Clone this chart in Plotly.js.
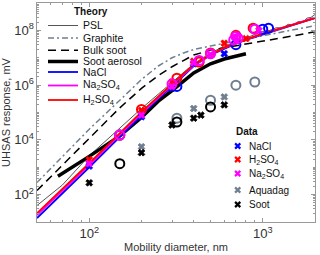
<!DOCTYPE html>
<html>
<head>
<meta charset="utf-8">
<script src="https://cdn.plot.ly/plotly-3.0.1.min.js"></script>
<style>html,body{margin:0;padding:0;background:#fff}#chart{width:320px;height:255px}</style>
</head>
<body>
<div id="chart"></div>
<script>
// ---- Theory curves ----
const dPSL = [50, 70, 100, 150, 200, 300, 400, 500, 600, 700, 800, 900, 1000, 1100, 1200, 1300, 1400, 1500, 1600, 1700, 1800, 1900, 2000];
const vPSL = [40, 224, 2630, 2.8e4, 1.4e5, 1.26e6, 6.0e6, 1.5e7, 2.6e7, 3.8e7, 5.2e7, 6.9e7, 9.1e7, 1.0e8, 1.26e8, 1.2e8, 1.66e8, 1.58e8, 2.1e8, 2.0e8, 2.8e8, 3.0e8, 3.8e8];

const dGraphite = [50, 100, 150, 200, 250, 300, 350, 400, 500, 600, 700, 800, 1000, 1200, 1500, 2000];
const vGraphite = [275, 2.45e4, 2.8e5, 1.6e6, 5.0e6, 1.0e7, 1.5e7, 2.0e7, 2.7e7, 3.4e7, 4.2e7, 4.8e7, 6.3e7, 7.9e7, 1.05e8, 1.48e8];

const dBulk = [50, 100, 150, 200, 250, 300, 400, 500, 600, 700, 800, 1000, 1200, 1500, 2000];
const vBulk = [141, 1.12e4, 1.48e5, 7.6e5, 2.24e6, 4.7e6, 1.26e7, 1.9e7, 2.3e7, 2.7e7, 3.2e7, 4.0e7, 4.8e7, 6.3e7, 8.9e7];

const dSootAer = [66, 100, 150, 200, 250, 300, 400, 500, 600, 700, 800];
const vSootAer = [468, 2.5e3, 1.4e4, 6.6e4, 2.6e5, 6.3e5, 2.8e6, 6.0e6, 9.0e6, 1.15e7, 1.4e7];

const dSalt = [50, 100, 200, 250, 300, 400, 500, 600, 700, 800, 1000, 1200, 1500, 2000];
const vNaClTh = [14, 1.0e3, 7.9e4, 3.2e5, 8.9e5, 5.0e6, 1.26e7, 2.2e7, 3.3e7, 4.5e7, 7.1e7, 1.0e8, 1.6e8, 2.8e8];
const vNa2SO4Th = [18, 1.2e3, 9.3e4, 3.5e5, 1.0e6, 5.2e6, 1.26e7, 2.3e7, 3.4e7, 4.6e7, 7.4e7, 1.05e8, 1.66e8, 2.9e8];
const vH2SO4Th = [21, 1.4e3, 1.05e5, 4.0e5, 1.1e6, 5.6e6, 1.3e7, 2.35e7, 3.5e7, 4.7e7, 7.6e7, 1.07e8, 1.66e8, 2.8e8];

// ---- Measured data (X = crosses, O = circles) ----
const dNaClX = [100, 200, 300, 400, 600];
const vNaClX = [1.1e3, 7e4, 7.6e5, 6e6, 1.4e7];
const dNaClO = [150, 320, 700, 1000, 1080];
const vNaClO = [1.5e4, 9e5, 3e7, 1.1e8, 1.2e8];

const dH2SO4X = [100, 200, 300, 400, 600, 800];
const vH2SO4X = [1.9e3, 1.2e5, 1.3e6, 7.5e6, 3.4e7, 5e7];
const dH2SO4O = [150, 200, 320, 430, 500, 700, 880];
const vH2SO4O = [1.5e4, 1.3e5, 1.8e6, 7e6, 1.5e7, 6.6e7, 1.2e8];

const dNa2SO4X = [100, 200, 300, 400, 500, 700, 950];
const vNa2SO4X = [1.35e3, 8e4, 9e5, 6.5e6, 1.3e7, 5.5e7, 1.0e8];
const dNa2SO4O = [150, 300, 430, 500, 680, 700, 720, 900];
const vNa2SO4O = [1.5e4, 1.1e6, 8e6, 1.4e7, 4.5e7, 6e7, 5.2e7, 1.1e8];

const dAquaX = [200, 400, 600];
const vAquaX = [5.6e3, 1.4e5, 3.7e5];
const dAquaO = [320, 500, 700, 900];
const vAquaO = [6.2e4, 2.8e5, 1.0e6, 1.3e6];

const dSootX = [100, 200, 300, 400, 440, 600];
const vSootX = [2.7e2, 3.4e3, 3.5e4, 6.2e4, 8e4, 1.9e5];
const dSootO = [150, 320, 500];
const vSootO = [1.35e3, 4.5e4, 1.6e5];

// ---- Legend labels ----
const theoryNames = ['PSL', 'Graphite', 'Bulk soot', 'Soot aerosol', 'NaCl', 'Na<sub>2</sub>SO<sub>4</sub>', 'H<sub>2</sub>SO<sub>4</sub>'];
const dataNames = ['NaCl', 'H<sub>2</sub>SO<sub>4</sub>', 'Na<sub>2</sub>SO<sub>4</sub>', 'Aquadag', 'Soot'];

const GRAYBLUE = '#6f7f90';
const theoryStyles = [
  {color:'#555555', width:1, dash:'solid'},
  {color:GRAYBLUE, width:1.5, dash:'6px,3px,2px,3px'},
  {color:'#000000', width:1.5, dash:'8px,5px'},
  {color:'#000000', width:3.5, dash:'solid'},
  {color:'#0000ff', width:1.8, dash:'solid'},
  {color:'#ff00ff', width:1.8, dash:'solid'},
  {color:'#ff0000', width:1.8, dash:'solid'}
];
const dataColors = ['#0000ff', '#ff0000', '#ff00ff', GRAYBLUE, '#000000'];

const theoryX = [dPSL, dGraphite, dBulk, dSootAer, dSalt, dSalt, dSalt];
const theoryY = [vPSL, vGraphite, vBulk, vSootAer, vNaClTh, vNa2SO4Th, vH2SO4Th];
const dataXx = [dNaClX, dH2SO4X, dNa2SO4X, dAquaX, dSootX];
const dataXy = [vNaClX, vH2SO4X, vNa2SO4X, vAquaX, vSootX];
const dataOx = [dNaClO, dH2SO4O, dNa2SO4O, dAquaO, dSootO];
const dataOy = [vNaClO, vH2SO4O, vNa2SO4O, vAquaO, vSootO];

const traces = [];
theoryNames.forEach((n, i) => {
  traces.push({type:'scatter', mode:'lines', name:n, x:theoryX[i], y:theoryY[i], showlegend:false,
    line:theoryStyles[i], hoverinfo:'skip'});
});
dataNames.forEach((n, i) => {
  const c = dataColors[i];
  traces.push({type:'scatter', mode:'markers', name:n, x:dataOx[i], y:dataOy[i], showlegend:false,
    marker:{symbol:'circle-open', size:9, color:c, opacity:1, line:{width:2, color:c}}, hoverinfo:'skip'});
  traces.push({type:'scatter', mode:'markers', name:n, x:dataXx[i], y:dataXy[i], showlegend:false,
    marker:{symbol:'x', size:6, color:c, opacity:1, line:{width:0.8, color:c}}, hoverinfo:'skip'});
});

// ---- Hand-laid legends (pixel positions converted to paper fractions) ----
const M = {l:37, r:5, t:3, b:33}, W = 320, H = 255;
const PW = W - M.l - M.r, PH = H - M.t - M.b;
const px = v => (v - M.l) / PW;
const py = v => 1 - (v - M.t) / PH;

const shapes = [], annotations = [];
const thRowY = [25.5, 38, 50.3, 61.5, 72, 85.5, 100];
theoryNames.forEach((n, i) => {
  const s = theoryStyles[i];
  shapes.push({type:'line', xref:'paper', yref:'paper', x0:px(48), x1:px(78), y0:py(thRowY[i]), y1:py(thRowY[i]),
    line:{color:s.color, width:s.width, dash:s.dash}});
  annotations.push({xref:'paper', yref:'paper', x:px(81), y:py(thRowY[i]), xanchor:'left', yanchor:'middle',
    showarrow:false, text:n, font:{size:10.5, color:'#111'}});
});
annotations.push({xref:'paper', yref:'paper', x:px(91), y:py(12), xanchor:'center', yanchor:'middle',
  showarrow:false, text:'<b>Theory</b>', font:{size:10, color:'#111'}});

const daRowY = [146, 159.5, 173.5, 190, 204.5];
dataNames.forEach((n, i) => {
  const c = dataColors[i], cx = 237.7, cy = daRowY[i], r = 2.6;
  shapes.push({type:'path', xref:'paper', yref:'paper',
    path:`M${px(cx - r)},${py(cy - r)} L${px(cx + r)},${py(cy + r)} M${px(cx - r)},${py(cy + r)} L${px(cx + r)},${py(cy - r)}`,
    line:{color:c, width:2.2}});
  annotations.push({xref:'paper', yref:'paper', x:px(247), y:py(cy), xanchor:'left', yanchor:'middle',
    showarrow:false, text:n, font:{size:10, color:'#111'}});
});
annotations.push({xref:'paper', yref:'paper', x:px(246.7), y:py(131), xanchor:'center', yanchor:'middle',
  showarrow:false, text:'<b>Data</b>', font:{size:10, color:'#111'}});

const axisCommon = {
  type:'log', showline:true, linecolor:'#999', linewidth:1, mirror:'ticks',
  ticks:'inside', ticklen:4, tickcolor:'#999', showgrid:false, zeroline:false,
  exponentformat:'power', tickfont:{size:10.5, color:'#333'},
  minor:{ticks:'inside', ticklen:2, tickcolor:'#999', dtick:'D1', showgrid:false}
};
const layout = {
  width:W, height:H,
  margin:M,
  paper_bgcolor:'#fff', plot_bgcolor:'#fff',
  font:{family:'Liberation Sans, Arial, sans-serif', size:10, color:'#222'},
  showlegend:false,
  xaxis:Object.assign({}, axisCommon, {range:[Math.log10(50), Math.log10(2000)], dtick:1,
    title:{text:'Mobility diameter, nm', font:{size:11, color:'#333'}, standoff:3}}),
  yaxis:Object.assign({}, axisCommon, {range:[1, 9], dtick:2,
    title:{text:'UHSAS response, mV', font:{size:11, color:'#333'}, standoff:2}}),
  shapes:shapes,
  annotations:annotations
};
Plotly.newPlot('chart', traces, layout, {staticPlot:true, displayModeBar:false});
</script>
</body>
</html>
